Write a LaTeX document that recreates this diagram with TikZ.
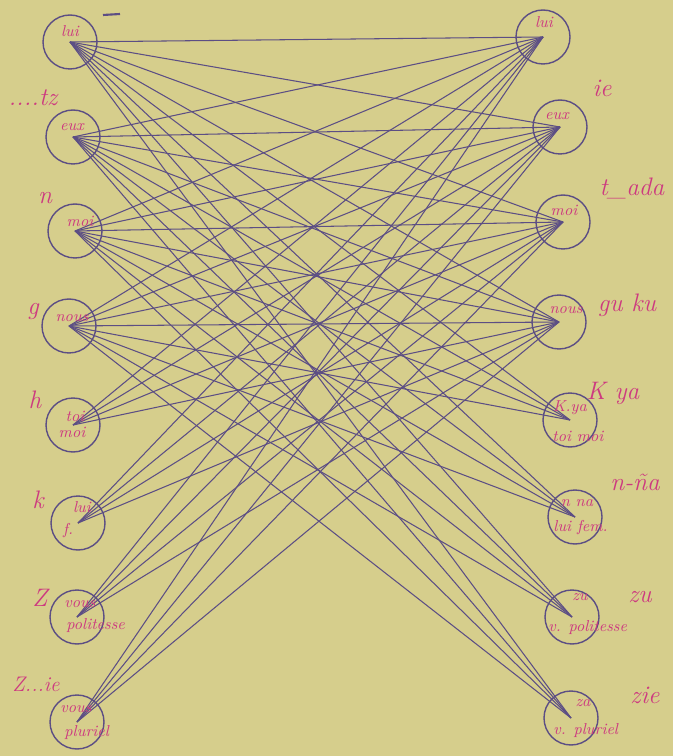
\documentclass[tikz,border=0pt]{standalone}
\usepackage{tikz}
\usetikzlibrary{positioning}
\usetikzlibrary{calc}
\definecolor{paper}{RGB}{214,206,140}
\definecolor{pencil}{RGB}{92,78,132}
\definecolor{ink}{RGB}{205,58,128}

\begin{document}
\begin{tikzpicture}[x=0.02cm, y=-0.02cm,
    pron/.style={circle, draw=pencil, thick, minimum size=1.08cm, inner sep=0pt},
    word/.style={text=ink, font=\itshape\small, inner sep=0pt},
    tag/.style={text=ink, font=\itshape\Large, inner sep=0pt}]
    \fill[paper] (0,0) rectangle (673,756);
    \useasboundingbox (0,0) rectangle (673,756);
    % left column
    \node[pron] (l1) at (70,42) {};
    \node[pron] (l2) at (73,137) {};
    \node[pron] (l3) at (75,231) {};
    \node[pron] (l4) at (69,326) {};
    \node[pron] (l5) at (73,425) {};
    \node[pron] (l6) at (78,523) {};
    \node[pron] (l7) at (77,617) {};
    \node[pron] (l8) at (77,722) {};
    % right column
    \node[pron] (r1) at (543,37) {};
    \node[pron] (r2) at (560,127) {};
    \node[pron] (r3) at (563,222) {};
    \node[pron] (r4) at (559,322) {};
    \node[pron] (r5) at (570,420) {};
    \node[pron] (r6) at (575,517) {};
    \node[pron] (r7) at (572,617) {};
    \node[pron] (r8) at (571,718) {};
    % links
    \foreach \i in {1,...,8} {
        \foreach \j in {1,...,4} {
            \draw[pencil, semithick] (l\i.center) -- (r\j.center);
        }
    }
    \foreach \i in {1,...,4} {
        \foreach \j in {5,...,8} {
            \draw[pencil, semithick] (l\i.center) -- (r\j.center);
        }
    }
    \draw[pencil, very thick] (103,15) -- (120,14);
    % words in the left circles
    \node[word] (wl1) at (70,31) {lui};
    \node[word] (wl2) at (72,127) {eux};
    \node[word] (wl3) at (80,221) {moi};
    \node[word] (wl4) at (72,318) {nous};
    \node[word] (wl5a) at (75,416) {toi};
    \node[word] (wl5b) at (72,432) {moi};
    \node[word] (wl6a) at (82,507) {lui};
    \node[word] (wl6b) at (68,531) {f.};
    \node[word, anchor=west] (wl7a) at (64,604) {vous};
    \node[word, anchor=west] (wl7b) at (66,626) {politesse};
    \node[word, anchor=west] (wl8a) at (60,709) {vous};
    \node[word, anchor=west] (wl8b) at (64,733) {pluriel};
    % words in the right circles
    \node[word] (wr1) at (544,22) {lui};
    \node[word] (wr2) at (557,116) {eux};
    \node[word] (wr3) at (564,210) {moi};
    \node[word] (wr4) at (566,310) {nous};
    \node[word] (wr5a) at (570,408) {K.ya};
    \node[word, anchor=west] (wr5b) at (552,436) {toi moi};
    \node[word] (wr6a) at (577,503) {n na};
    \node[word, anchor=west] (wr6b) at (553,528) {lui fem.};
    \node[word] (wr7a) at (580,597) {zu};
    \node[word, anchor=west] (wr7b) at (548,628) {v. politesse};
    \node[word] (wr8a) at (583,703) {za};
    \node[word, anchor=west] (wr8b) at (553,731) {v. pluriel};
    % tags beside the left circles
    \node[tag] (tl2) at (33,98) {....tz};
    \node[tag] (tl3) at (45,198) {n};
    \node[tag] (tl4) at (33,312) {g};
    \node[tag] (tl5) at (35,400) {h};
    \node[tag] (tl6) at (38,500) {k};
    \node[tag] (tl7) at (40,598) {Z};
    \node[tag, font=\itshape\large] (tl8) at (36,684) {Z...ie};
    % tags beside the right circles
    \node[tag] (tr2) at (602,88) {ie};
    \node[tag] (tr3) at (632,188) {t\_ada};
    \node[tag] (tr4) at (627,305) {gu ku};
    \node[tag] (tr5) at (613,393) {K ya};
    \node[tag] (tr6) at (635,482) {n-ña};
    \node[tag] (tr7) at (640,597) {zu};
    \node[tag] (tr8) at (645,695) {zie};
\end{tikzpicture}
\end{document}
